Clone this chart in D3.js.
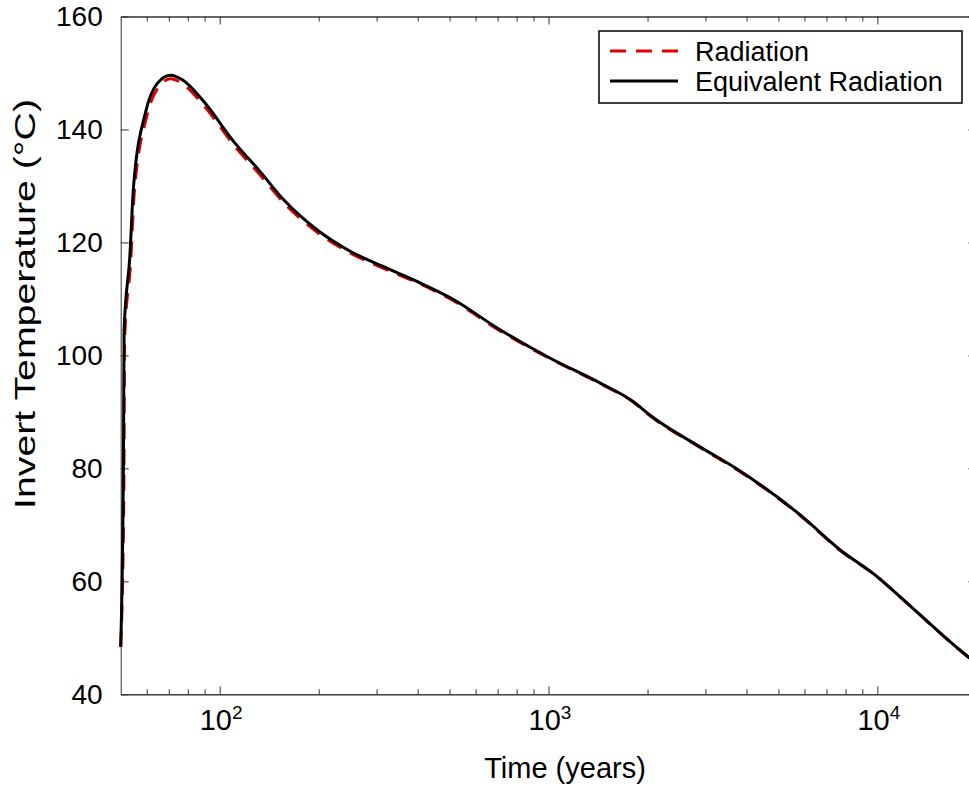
<!DOCTYPE html>
<html>
<head>
<meta charset="utf-8">
<script src="https://cdn.jsdelivr.net/npm/d3@7"></script>
<style>
  html, body { margin: 0; padding: 0; background: #fff; }
  svg { display: block; font-family: "Liberation Sans", Arial, sans-serif; }
</style>
</head>
<body>
<svg id="chart" width="969" height="788"></svg>
<script>
// Time (years) and invert temperature (°C)
const timeEq = [50, 51.0, 51.2, 53.3, 54.7, 59.6, 64.7, 71.0, 77.0, 89.6, 110.5, 131.6, 156.8, 198, 250, 315, 398, 503, 714, 1012, 1436, 1812, 2036, 2888, 3690, 5812, 7690, 10000, 11700, 18810, 20000];
const tempEq = [48.4, 83.6, 104.5, 117.5, 129.9, 143.2, 148.2, 149.6, 148.8, 144.9, 137.8, 132.8, 127.5, 122.2, 118.4, 115.7, 113.1, 110.2, 104.5, 99.5, 95.1, 91.8, 89.4, 83.8, 80.1, 71.8, 65.6, 60.8, 57.3, 46.7, 45.5];

const timeRad = [50, 51.1, 51.4, 53.6, 55.0, 60.0, 65.0, 71.0, 77.0, 89.6, 110.5, 131.6, 156.8, 198, 250, 315, 398, 503, 714, 1012, 1436, 1812, 2036, 2888, 3690, 5812, 7690, 10000, 11700, 18810, 20000];
const tempRad = [48.4, 75.0, 103.0, 116.5, 128.8, 142.3, 147.4, 149.0, 148.1, 144.2, 137.2, 132.2, 127.0, 121.8, 118.1, 115.4, 112.9, 110.0, 104.3, 99.4, 95.0, 91.7, 89.3, 83.7, 80.0, 71.7, 65.5, 60.8, 57.3, 46.7, 45.5];

const yTicks = [40, 60, 80, 100, 120, 140, 160];
const xMajorTicks = [100, 1000, 10000];
const xLabelExp = ["2", "3", "4"];
const seriesNames = ["Radiation", "Equivalent Radiation"];

const svg = d3.select("#chart");
const pL = 120.7, pR = 976.4, pT = 16.5, pB = 694.3;

const x = d3.scaleLog().domain([50, 20000]).range([pL, pR]);
const y = d3.scaleLinear().domain([40, 160]).range([pB, pT]);

const axisColor = "#333";

const minor = [];
for (let p = 1; p <= 4; p++) {
  for (let m = 2; m <= 9; m++) {
    const v = m * Math.pow(10, p);
    if (v > 50 && v < 20000) minor.push(v);
  }
}

const g = svg.append("g");

g.append("g").attr("transform", `translate(0,${pB})`)
  .call(d3.axisBottom(x).tickValues(xMajorTicks).tickSizeInner(-8).tickSizeOuter(0).tickFormat(""));
g.append("g").attr("transform", `translate(0,${pB})`)
  .call(d3.axisBottom(x).tickValues(minor).tickSizeInner(-5).tickSizeOuter(0).tickFormat(""));
g.append("g").attr("transform", `translate(0,${pT})`)
  .call(d3.axisTop(x).tickValues(xMajorTicks).tickSizeInner(-8).tickSizeOuter(0).tickFormat(""));
g.append("g").attr("transform", `translate(0,${pT})`)
  .call(d3.axisTop(x).tickValues(minor).tickSizeInner(-5).tickSizeOuter(0).tickFormat(""));
const gl = g.append("g").attr("transform", `translate(${pL},0)`)
  .call(d3.axisLeft(y).tickValues(yTicks).tickSizeInner(-8).tickSizeOuter(0).tickPadding(18).tickFormat(d3.format("d")));
gl.selectAll("text").attr("font-size", 28).attr("fill", "#000").attr("font-family", "'Liberation Sans', Arial, sans-serif");
g.append("g").attr("transform", `translate(${pR},0)`)
  .call(d3.axisRight(y).tickValues(yTicks).tickSizeInner(-8).tickSizeOuter(0).tickFormat(""));

g.selectAll(".domain").attr("stroke", axisColor).attr("stroke-width", 1);
g.selectAll(".tick line").attr("stroke", axisColor).attr("stroke-width", 1);

const xl = g.append("g");
xMajorTicks.forEach((v, i) => {
  const t = xl.append("text")
    .attr("x", x(v) - 20)
    .attr("y", pB + 36)
    .attr("font-size", 29)
    .attr("fill", "#000");
  t.append("tspan").text("10");
  t.append("tspan").attr("font-size", 19).attr("dy", -11).text(xLabelExp[i]);
});

svg.append("text")
  .attr("x", 565)
  .attr("y", 778)
  .attr("text-anchor", "middle")
  .attr("font-size", 29)
  .attr("fill", "#000")
  .text("Time (years)");

svg.append("text")
  .attr("transform", `translate(35,304) rotate(-90)`)
  .attr("text-anchor", "middle")
  .attr("font-size", 29)
  .attr("textLength", 410)
  .attr("lengthAdjust", "spacingAndGlyphs")
  .attr("fill", "#000")
  .text("Invert Temperature (°C)");

const line = d3.line().x(d => x(d[0])).y(d => y(d[1])).curve(d3.curveMonotoneX);
const radData = timeRad.map((t, i) => [t, tempRad[i]]);
const eqData = timeEq.map((t, i) => [t, tempEq[i]]);

svg.append("path").datum(radData)
  .attr("d", line).attr("fill", "none")
  .attr("stroke", "#e00000").attr("stroke-width", 3)
  .attr("stroke-dasharray", "16,10");

svg.append("path").datum(eqData)
  .attr("d", line).attr("fill", "none")
  .attr("stroke", "#000").attr("stroke-width", 3)
  .attr("stroke-linejoin", "round");

const lg = svg.append("g");
lg.append("rect").attr("x", 599).attr("y", 31).attr("width", 363).attr("height", 72)
  .attr("fill", "#fff").attr("stroke", "#000").attr("stroke-width", 1.5);
const legendColors = ["#e00000", "#000"];
const legendDash = ["16,10", null];
seriesNames.forEach((name, i) => {
  const yy = 51 + i * 30;
  lg.append("line").attr("x1", 610).attr("x2", 678).attr("y1", yy).attr("y2", yy)
    .attr("stroke", legendColors[i]).attr("stroke-width", 3)
    .attr("stroke-dasharray", legendDash[i]);
  lg.append("text").attr("x", 695).attr("y", yy + 10)
    .attr("font-size", 27).attr("fill", "#000").text(name);
});
</script>
</body>
</html>
